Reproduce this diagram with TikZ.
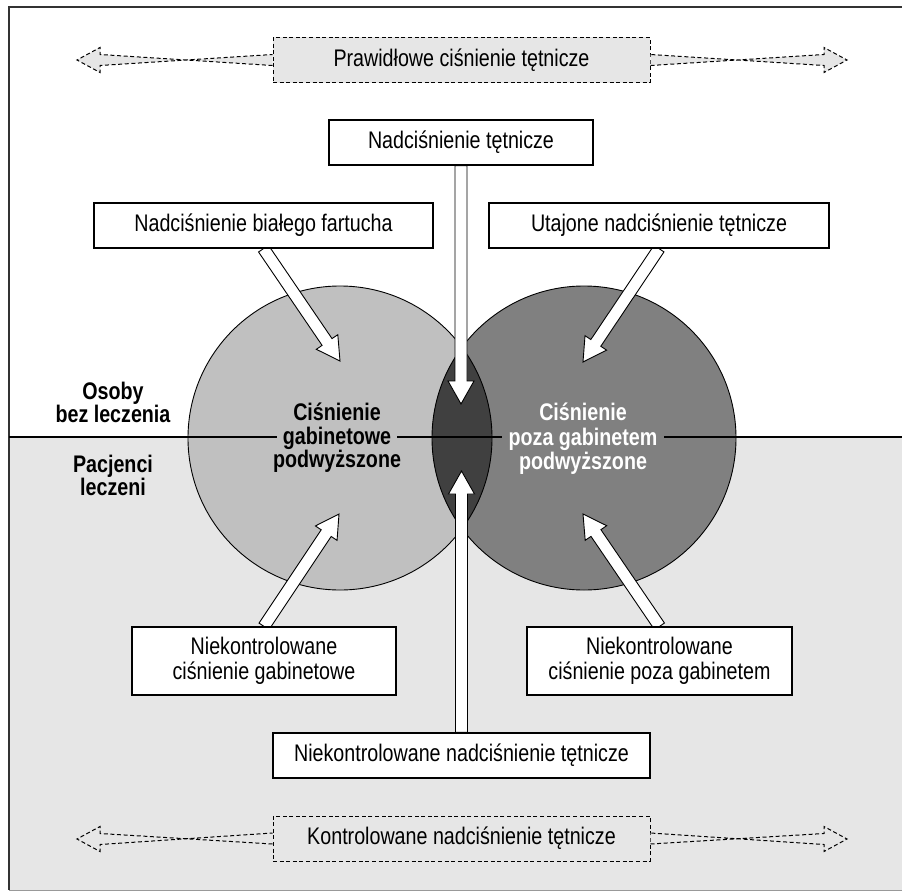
\documentclass[tikz,border=0pt]{standalone}
\usepackage{fontspec}
\setmainfont{Liberation Sans}[FakeStretch=0.82]
\usetikzlibrary{calc}
\definecolor{bglow}{HTML}{E6E6E6}
\definecolor{cleft}{HTML}{C0C0C0}
\definecolor{cright}{HTML}{808080}
\definecolor{clens}{HTML}{404040}
\definecolor{framec}{HTML}{333333}
\newcommand\hollowarrow[2]{%
  \draw[hollow] ($(#1)!6pt!-90:(#2)$)
    -- ($(#2)!23pt!(#1)!6pt!90:(#1)$)
    -- ($(#2)!23pt!(#1)!13pt!90:(#1)$)
    -- (#2)
    -- ($(#2)!23pt!(#1)!13pt!-90:(#1)$)
    -- ($(#2)!23pt!(#1)!6pt!-90:(#1)$)
    -- ($(#1)!6pt!90:(#2)$) -- cycle;}
% dashed double arrow pieces: #1 box anchor, #2 tip, #3 direction (+1 left tip, -1 right tip)
\newcommand\dashedshaft[3]{%
  \fill[bglow] ([yshift=-5.5pt]#1) -- ([shift={(#3*23,-5.5)}]#2) -- ([shift={(#3*23,-12.5)}]#2) -- (#2)
     -- ([shift={(#3*23,12.5)}]#2) -- ([shift={(#3*23,5.5)}]#2) -- ([yshift=5.5pt]#1) -- cycle;
  \draw[dline] ([yshift=-5.5pt]#1) -- ([shift={(#3*23,-5.5)}]#2) -- ([shift={(#3*23,-12.5)}]#2) -- (#2)
     -- ([shift={(#3*23,12.5)}]#2) -- ([shift={(#3*23,5.5)}]#2) -- ([yshift=5.5pt]#1);}
\begin{document}
\begin{tikzpicture}[x=1pt,y=-1pt,
  font=\fontsize{24}{24.5}\selectfont,
  hollow/.style={draw=black, line width=0.9pt, fill=white, line join=miter},
  dline/.style={draw=black, line width=1pt, dash pattern=on 4pt off 2.6pt},
  textbox/.style={draw=black, line width=1.2pt, fill=white, inner sep=0pt, align=center, minimum height=45pt},
  dashbox/.style={draw=black, line width=1pt, dash pattern=on 4pt off 2.6pt, fill=bglow, inner sep=0pt, align=center, minimum height=45pt, minimum width=377pt},
  boldlbl/.style={font=\fontsize{24}{24.5}\selectfont\bfseries, anchor=base, inner sep=0pt},
]
\useasboundingbox (0,0) rectangle (902,891);
\fill[white] (0,0) rectangle (902,891);
\fill[bglow] (9,437) rectangle (902,890);
\draw[framec, line width=1.4pt] (902,7) -- (9,7) -- (9,890);
\draw[black!40, line width=1pt] (9,890) -- (902,890);

% circles
\fill[cleft] (340,438) circle[radius=152];
\fill[cright] (584,438) circle[radius=152];
\begin{scope}
  \clip (340,438) circle[radius=152];
  \fill[clens] (584,438) circle[radius=152];
\end{scope}
\draw[black, line width=0.9pt] (340,438) circle[radius=152];
\draw[black, line width=0.9pt] (584,438) circle[radius=152];

% divider
\draw[black, line width=1.3pt] (9,437) -- (902,437);

% circle texts
\node[boldlbl] (l1) at (337,420) {Ciśnienie};
\node[boldlbl, fill=cleft, inner xsep=6pt, inner ysep=1pt] (l2) at (337,444) {gabinetowe};
\node[boldlbl] (l3) at (337,467) {podwyższone};
\node[boldlbl, text=white] (r1) at (583,420) {Ciśnienie};
\node[boldlbl, text=white, fill=cright, inner xsep=7pt, inner ysep=1pt] (r2) at (583,445) {poza gabinetem};
\node[boldlbl, text=white] (r3) at (583,469) {podwyższone};

% side labels
\node[boldlbl] (o1) at (113,399) {Osoby};
\node[boldlbl] (o2) at (113,422) {bez leczenia};
\node[boldlbl] (p1) at (113,472) {Pacjenci};
\node[boldlbl] (p2) at (113,495) {leczeni};

% boxes
\node[textbox, minimum width=264pt] (nt) at (461,142.5) {Nadciśnienie tętnicze};
\node[textbox, minimum width=339pt] (wc) at (263.5,225.5) {Nadciśnienie białego fartucha};
\node[textbox, minimum width=340pt] (ut) at (659,225.5) {Utajone nadciśnienie tętnicze};
\node[textbox, minimum width=264pt, minimum height=68pt] (ng) at (264,661) {Niekontrolowane\\ciśnienie gabinetowe};
\node[textbox, minimum width=265pt, minimum height=68pt] (np) at (659.5,661) {Niekontrolowane\\ciśnienie poza gabinetem};
\node[textbox, minimum width=377pt] (nn) at (461.5,755.5) {Niekontrolowane nadciśnienie tętnicze};

% arrow tips
\coordinate (tWC) at (340,361);
\coordinate (tNT) at (461,404);
\coordinate (tUT) at (583,362);
\coordinate (tNG) at (339,514);
\coordinate (tNP) at (583,514);
\coordinate (tNN) at (461.5,471);

\hollowarrow{wc.south}{tWC}
\hollowarrow{nt.south}{tNT}
\hollowarrow{ut.south}{tUT}
\hollowarrow{ng.north}{tNG}
\hollowarrow{np.north}{tNP}
\hollowarrow{nn.north}{tNN}

% redraw boxes on top of arrow tails
\node[textbox, minimum width=264pt] at (nt) {Nadciśnienie tętnicze};
\node[textbox, minimum width=339pt] at (wc) {Nadciśnienie białego fartucha};
\node[textbox, minimum width=340pt] at (ut) {Utajone nadciśnienie tętnicze};
\node[textbox, minimum width=264pt, minimum height=68pt] at (ng) {Niekontrolowane\\ciśnienie gabinetowe};
\node[textbox, minimum width=265pt, minimum height=68pt] at (np) {Niekontrolowane\\ciśnienie poza gabinetem};
\node[textbox, minimum width=377pt] at (nn) {Niekontrolowane nadciśnienie tętnicze};

% dashed range arrows
\coordinate (topL) at (77,60);
\coordinate (topR) at (847,60);
\coordinate (botL) at (77,839);
\coordinate (botR) at (847,839);
\node[dashbox] (pr) at (461.5,60) {Prawidłowe ciśnienie tętnicze};
\dashedshaft{pr.west}{topL}{1}
\dashedshaft{pr.east}{topR}{-1}
\node[dashbox] (kn) at (461.5,838.5) {Kontrolowane nadciśnienie tętnicze};
\dashedshaft{kn.west}{botL}{1}
\dashedshaft{kn.east}{botR}{-1}
\end{tikzpicture}
\end{document}
